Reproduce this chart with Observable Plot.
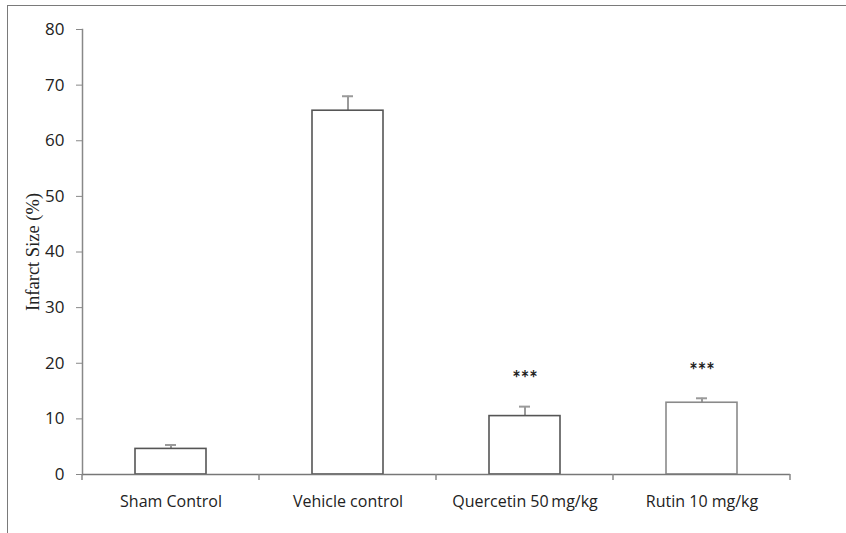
<!DOCTYPE html>
<html><head><meta charset="utf-8">
<script src="https://cdn.jsdelivr.net/npm/d3@7"></script>
<script src="https://cdn.jsdelivr.net/npm/@observablehq/plot@0.6"></script>
<style>
html,body{margin:0;padding:0;background:#fff;overflow:hidden;}
#wrap{position:relative;width:846px;height:533px;}
#border{position:absolute;left:7px;top:5px;width:860px;height:560px;border-left:1.5px solid #7a7a7a;border-top:1.5px solid #7a7a7a;pointer-events:none;}
#wrap svg{position:absolute;left:0;top:0;}
g[aria-label="y-axis label"] text{font-family:"Liberation Serif","DejaVu Serif",serif;font-size:18.5px;}
</style></head><body><div id="wrap"><div id="border"></div></div>
<script>
const categories = ["Sham Control", "Vehicle control", "Quercetin 50\u2009mg/kg", "Rutin 10 mg/kg"];
const means = [4.6, 65.4, 10.5, 12.9];
const errors = [0.7, 2.6, 1.7, 0.8];
const significance = ["", "", "***", "***"];
const yTicks = [0, 10, 20, 30, 40, 50, 60, 70, 80];

const data = categories.map((c, i) => ({group: c, mean: means[i], top: means[i] + errors[i], sig: significance[i]}));
const lighter = new Set([categories[3]]);

const plot = Plot.plot({
  width: 846, height: 533,
  marginLeft: 82, marginRight: 56, marginTop: 29, marginBottom: 59,
  style: {fontFamily: "'Open Sans', Lato, sans-serif", fontSize: "16px", color: "#222", background: "transparent"},
  x: {domain: categories, paddingInner: 0.6, paddingOuter: 0.3, label: null},
  y: {domain: [0, 80], label: "Infarct Size (%)"},
  marks: [
    Plot.axisY({ticks: yTicks, tickSize: 6, tickPadding: 12, stroke: "#888", label: "Infarct Size (%)", labelAnchor: "center", labelArrow: "none", labelOffset: 57, fontSize: 17}),
    Plot.axisX({tickSize: 0, tickPadding: 21, label: null, fontSize: 16}),
    Plot.ruleX(data, {x: "group", y1: "mean", y2: "top", stroke: "#9a9a9a", strokeWidth: 2}),
    Plot.tickY(data, {x: "group", y: "top", stroke: "#9a9a9a", strokeWidth: 2, insetLeft: 30, insetRight: 30}),
    Plot.barY(data, {x: "group", y: "mean", fill: "white", stroke: d => lighter.has(d.group) ? "#8a8a8a" : "#555", strokeWidth: 1.6}),
    Plot.text(data, {x: "group", y: "top", text: "sig", dy: -27, fontSize: 20, fontWeight: "bold", fontFamily: "Lato, sans-serif", fill: "#222"}),
    Plot.frame({anchor: "left", stroke: "#888", strokeWidth: 1.5}),
    Plot.ruleY([0], {stroke: "#777", strokeWidth: 1.5})
  ]
});

// band boundary ticks on the x axis, derived from the library's x scale
const xs = plot.scale("x");
const ys = plot.scale("y");
const half = (xs.step - xs.bandwidth) / 2;
const bounds = xs.domain.map(d => xs.apply(d) - half).concat([xs.apply(xs.domain[xs.domain.length - 1]) + xs.bandwidth + half]);
const y0 = ys.apply(0);
d3.select(plot).append("g").attr("aria-label", "x-boundary-ticks")
  .selectAll("line").data(bounds).join("line")
  .attr("x1", d => d).attr("x2", d => d)
  .attr("y1", y0).attr("y2", y0 + 6)
  .attr("stroke", "#888").attr("stroke-width", 1.5);

document.getElementById("wrap").appendChild(plot);
</script>
</body></html>
